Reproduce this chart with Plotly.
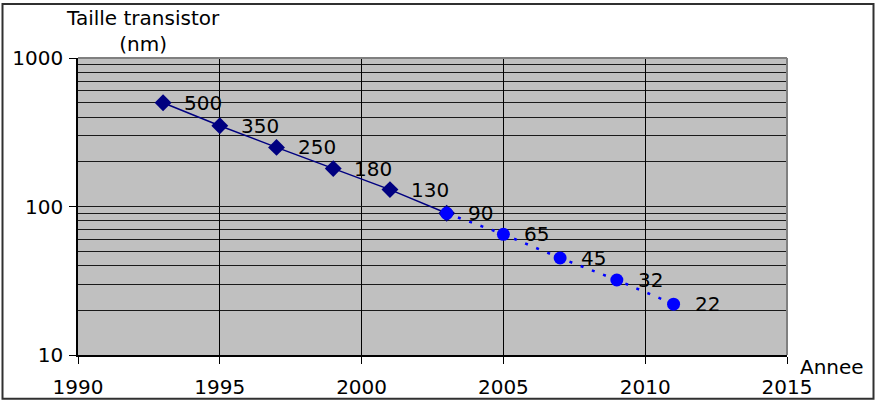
import math
import plotly.graph_objects as go

years_measured = [1993, 1995, 1997, 1999, 2001, 2003]
size_measured = [500, 350, 250, 180, 130, 90]
years_forecast = [2003, 2005, 2007, 2009, 2011]
size_forecast = [90, 65, 45, 32, 22]

x_ticks = [1990, 1995, 2000, 2005, 2010, 2015]
y_ticks = [10, 100, 1000]
y_minor = [20, 30, 40, 50, 60, 70, 80, 90, 200, 300, 400, 500, 600, 700, 800, 900]

FONT = "DejaVu Sans, Liberation Sans, Arial, sans-serif"
W = 877
SY = 411 / 402          # vertical compensation
H = 411
L, R = 78, 90
T = round(57 * SY)
B = H - round(355 * SY)
PW, PH = W - L - R, H - T - B


def paper_y(ref_px):
    """reference pixel row -> paper fraction"""
    return (H - B - ref_px * SY) / PH


fig = go.Figure()
fig.add_trace(go.Scatter(
    x=years_measured, y=size_measured, mode="lines+markers",
    line=dict(color="#000080", width=1.5),
    marker=dict(symbol="diamond", size=13, color="#000080"),
    showlegend=False, hoverinfo="x+y"))
fig.add_trace(go.Scatter(
    x=years_forecast, y=size_forecast, mode="lines+markers",
    line=dict(color="#0000FF", width=2.5, dash="3px,9px"),
    marker=dict(symbol="circle", size=13, color="#0000FF"),
    showlegend=False, hoverinfo="x+y"))

labels = {}
for x, y in zip(years_measured, size_measured):
    labels[x] = y
for x, y in zip(years_forecast, size_forecast):
    labels[x] = y
annotations = []
for x, y in labels.items():
    annotations.append(dict(x=x, y=math.log10(y), xref="x", yref="y", text=str(y),
                            showarrow=False, xanchor="left", yanchor="middle", xshift=19,
                            font=dict(family=FONT, size=20, color="black")))

annotations.append(dict(x=(143 - L) / PW, y=paper_y(30), xref="paper", yref="paper",
                        text="Taille transistor<br>(nm)", showarrow=False,
                        xanchor="center", yanchor="middle",
                        font=dict(family=FONT, size=20, color="black")))
annotations.append(dict(x=(832 - L) / PW, y=paper_y(367), xref="paper", yref="paper",
                        text="Annee", showarrow=False, xanchor="center", yanchor="middle",
                        font=dict(family=FONT, size=20, color="black")))

shapes = [
    dict(type="line", xref="paper", yref="paper", x0=0, x1=1, y0=1, y1=1,
         line=dict(color="#808080", width=2), layer="above"),
    dict(type="line", xref="paper", yref="paper", x0=1, x1=1, y0=0, y1=1,
         line=dict(color="#808080", width=2), layer="above"),
    dict(type="rect", xref="paper", yref="paper",
         x0=(2.5 - L) / PW, x1=(873.5 - L) / PW,
         y0=paper_y(399), y1=paper_y(2.5),
         line=dict(color="#303030", width=2), fillcolor="rgba(0,0,0,0)", layer="above"),
]

fig.update_layout(
    width=W, height=H,
    margin=dict(l=L, r=R, t=T, b=B, pad=0),
    paper_bgcolor="white", plot_bgcolor="#C0C0C0",
    font=dict(family=FONT, size=20, color="black"),
    annotations=annotations, shapes=shapes,
    xaxis=dict(range=[1990, 2015], tickvals=x_ticks, ticktext=[str(v) for v in x_ticks],
               showgrid=True, gridcolor="black", gridwidth=1,
               showline=True, linecolor="black", linewidth=1.5,
               ticks="outside", ticklen=7, tickcolor="black", tickwidth=1,
               ticklabelstandoff=6, zeroline=False,
               tickfont=dict(family=FONT, size=20, color="black")),
    yaxis=dict(type="log", range=[1, 3], tickvals=y_ticks, ticktext=[str(v) for v in y_ticks],
               showgrid=True, gridcolor="#1a1a1a", gridwidth=1,
               minor=dict(tickvals=y_minor, showgrid=True, gridcolor="#1a1a1a", gridwidth=1, ticklen=0),
               showline=True, linecolor="black", linewidth=1.5,
               ticks="outside", ticklen=7, tickcolor="black", tickwidth=1,
               ticklabelstandoff=2, zeroline=False,
               tickfont=dict(family=FONT, size=20, color="black")),
)

post = (
    "var d=document.documentElement,b=document.body;"
    "d.style.margin='0';d.style.padding='0';"
    "b.style.margin='0';b.style.padding='0';"
)
fig.write_html("out.html", config={"displayModeBar": False}, post_script=post)
